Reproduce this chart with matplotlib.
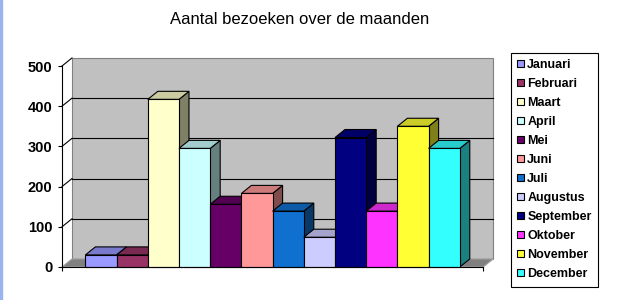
import numpy as np
import matplotlib
matplotlib.use("Agg")
import matplotlib.pyplot as plt
from matplotlib.patches import Polygon, Rectangle
from matplotlib.colors import to_rgb

plt.rcParams['font.family'] = ['Liberation Sans', 'DejaVu Sans']

# data
months = ['Januari', 'Februari', 'Maart', 'April', 'Mei', 'Juni',
          'Juli', 'Augustus', 'September', 'Oktober', 'November', 'December']
visits = [30, 30, 417, 295, 156, 183, 139, 74, 322, 139, 350, 295]
month_colors = ['#9999FF', '#993366', '#FFFFCC', '#CCFFFF', '#660066', '#FF9999',
                '#1070D0', '#CCCCFF', '#000080', '#FF33FF', '#FFFF33', '#33FFFF']
y_ticks = [0, 100, 200, 300, 400, 500]
title = 'Aantal bezoeken over de maanden'

# geometry of the fake 3D box (data units)
gap = 0.75          # free floor left/right of the bar group
width_total = len(months) + 2 * gap
dx, dy = 0.32, 20   # depth offset of the box
ymax = 500


def shade(c, f):
    r, g, b = to_rgb(c)
    return (r * f, g * f, b * f)


fig = plt.figure(figsize=(6.21, 3.0), dpi=100)
fig.patch.set_facecolor('white')
# thin blue strip on the left border of the screenshot
fig.patches.append(Rectangle((0, 0), 2 / 621, 1, transform=fig.transFigure,
                             color='#99B4EE', zorder=0))

ax = fig.add_axes([56 / 621, 25 / 300, 444 / 621, 225 / 300])
ax.set_xlim(-6 / 31.2, 438 / 31.2)
ax.set_ylim(-8 * 500 / 201, 217 * 500 / 201)
ax.patch.set_visible(False)

# floor and back wall
ax.add_patch(Polygon([(0, 0), (width_total, 0), (width_total + dx, dy), (dx, dy)],
                     closed=True, facecolor='#808080', edgecolor='#a0a0a0',
                     lw=0.8, zorder=0.5))
ax.add_patch(Rectangle((dx, dy), width_total, ymax, facecolor='#C0C0C0',
                       edgecolor='#808080', lw=0.8, zorder=0.4))

# gridlines: back wall + side wall diagonals
for v in y_ticks[1:]:
    if v < ymax:
        ax.plot([dx, width_total + dx], [v + dy, v + dy], color='black',
                lw=0.8, zorder=1)
    ax.plot([0, dx], [v, v + dy], color='black', lw=0.8, zorder=1)

# bars, painted left to right
for i, (m, v, c) in enumerate(zip(months, visits, month_colors)):
    x = gap + i
    z = 3 + 2 * i
    ax.add_patch(Polygon([(x + 1, 0), (x + 1 + dx, dy), (x + 1 + dx, v + dy), (x + 1, v)],
                         closed=True, facecolor=shade(c, 0.5), edgecolor='black',
                         lw=0.8, zorder=z))
    ax.add_patch(Polygon([(x, v), (x + 1, v), (x + 1 + dx, v + dy), (x + dx, v + dy)],
                         closed=True, facecolor=shade(c, 0.8), edgecolor='black',
                         lw=0.8, zorder=z))
    ax.bar(x, v, width=1, align='edge', color=c, edgecolor='black', lw=0.8,
           label=m, zorder=z + 1)

# axes
for s in ['top', 'right']:
    ax.spines[s].set_visible(False)
ax.spines['left'].set_position(('data', 0))
ax.spines['left'].set_bounds(0, ymax)
ax.spines['bottom'].set_position(('data', 0))
ax.spines['bottom'].set_bounds(0, width_total)
ax.spines['left'].set_zorder(40)
ax.spines['bottom'].set_zorder(40)
ax.set_yticks(y_ticks)
ax.set_yticklabels([str(t) for t in y_ticks], fontsize=10.5, fontweight='bold')
ax.set_xticks([0, width_total])
ax.set_xticklabels(['', ''])
ax.tick_params(axis='y', direction='out', length=3, width=0.8, pad=4)
ax.tick_params(axis='x', direction='out', length=3, width=0.8)

fig.text(300 / 621, 1 - 20 / 300, title, ha='center', va='center', fontsize=12)

leg = fig.legend(loc='upper left', bbox_to_anchor=(511 / 621, 1 - 53 / 300),
                 frameon=True, fancybox=False, edgecolor='black', framealpha=1,
                 prop={'size': 9, 'weight': 'bold'}, handlelength=0.5,
                 handleheight=0.5, handletextpad=0.3, labelspacing=0.56,
                 borderpad=0.5, borderaxespad=0)
leg.get_frame().set_linewidth(0.8)

fig.savefig('out.png', dpi=100)
